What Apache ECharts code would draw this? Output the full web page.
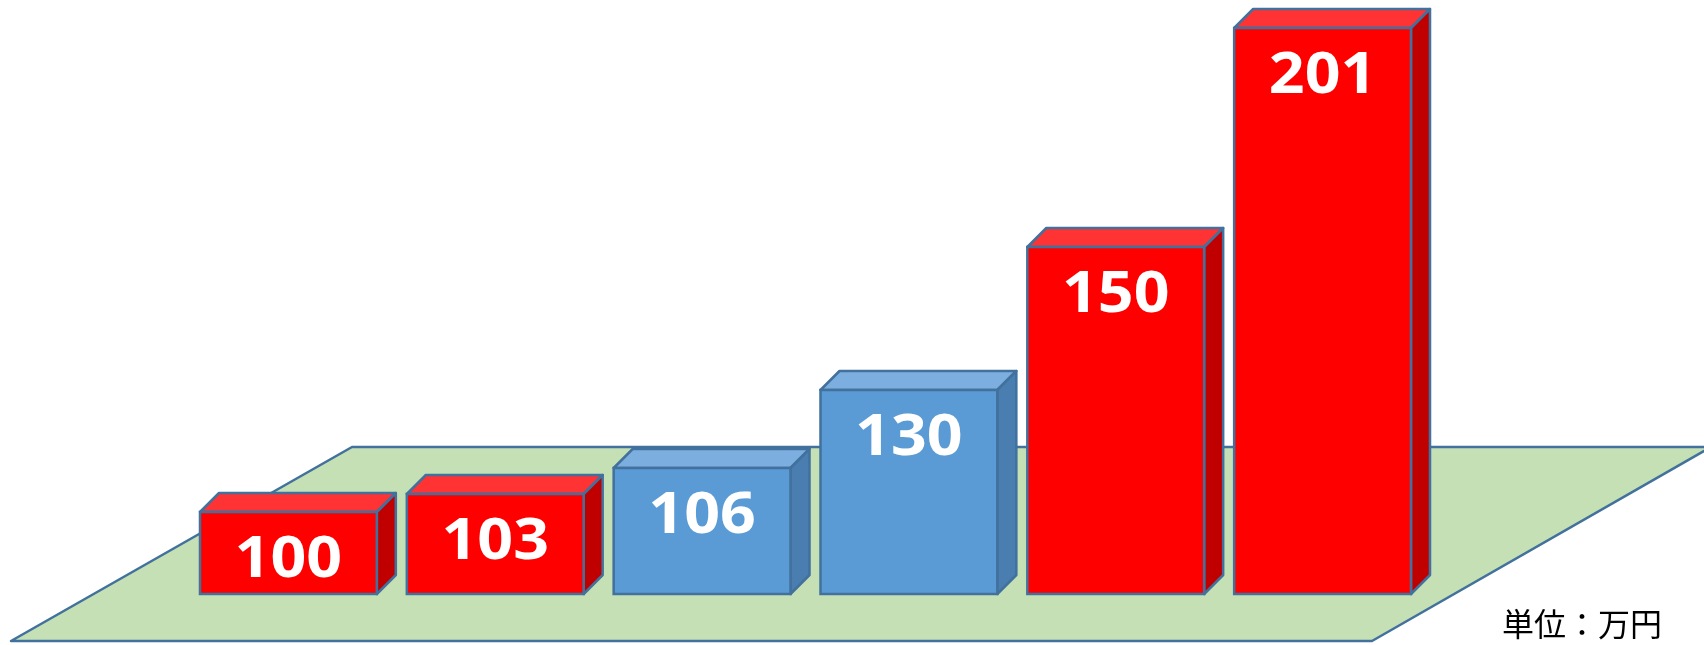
<!DOCTYPE html>
<html>
<head>
<meta charset="utf-8">
<script src="https://cdn.jsdelivr.net/npm/echarts@6/dist/echarts.min.js"></script>
<style>
html,body{margin:0;padding:0;background:#fff;}
#chart{width:1704px;height:645px;}
</style>
</head>
<body>
<div id="chart"></div>
<script>
// ---- data ----
const categories = ['1', '2', '3', '4', '5', '6'];
const values = [100, 103, 106, 130, 150, 201];          // labels shown on bars (万円)
const barHeights = [82, 100, 126, 204, 347, 566];        // drawn heights
const unitLabel = '単位：万円';

// ---- style ----
const blueIdx = [2, 3];
const RED = { front: '#FF0000', top: '#FF3333', side: '#C00000' };
const BLUE = { front: '#5B9BD5', top: '#7CAFE0', side: '#4A7EB0' };
const STROKE = '#41719C';
const DEPTH = 19;

const chart = echarts.init(document.getElementById('chart'), null, { renderer: 'canvas' });

function renderItem(params, api) {
  const i = api.value(0);
  const base = api.coord([i, 0]);
  const topPt = api.coord([i, api.value(1)]);
  const band = api.size([1, 0])[0];
  const w = band * 0.855;
  const x0 = base[0] - w / 2;
  const x1 = base[0] + w / 2;
  const yb = base[1];
  const yt = topPt[1];
  const c = blueIdx.indexOf(i) >= 0 ? BLUE : RED;
  const lw = 2.5;
  return {
    type: 'group',
    children: [
      { type: 'polygon', shape: { points: [[x0, yt], [x0 + DEPTH, yt - DEPTH], [x1 + DEPTH, yt - DEPTH], [x1, yt]] },
        style: { fill: c.top, stroke: STROKE, lineWidth: lw, lineJoin: 'round' } },
      { type: 'polygon', shape: { points: [[x1, yt], [x1 + DEPTH, yt - DEPTH], [x1 + DEPTH, yb - DEPTH], [x1, yb]] },
        style: { fill: c.side, stroke: STROKE, lineWidth: lw, lineJoin: 'round' } },
      { type: 'rect', shape: { x: x0, y: yt, width: w, height: yb - yt },
        style: { fill: c.front, stroke: STROKE, lineWidth: lw } },
      { type: 'text', x: base[0], y: yt + 49, scaleX: 1.1,
        style: { text: String(values[i]), fill: '#FFFFFF', font: 'bold 57px "Noto Sans", sans-serif',
                 textAlign: 'center', textVerticalAlign: 'middle' } }
    ]
  };
}

const option = {
  animation: false,
  grid: { left: 185, right: 278, top: 0, bottom: 51 },
  xAxis: { type: 'category', data: categories, show: false, boundaryGap: true },
  yAxis: { type: 'value', min: 0, max: 594, show: false },
  graphic: [
    { type: 'polygon', z: 0,
      shape: { points: [[11, 641], [352, 447], [1711, 447], [1372, 641]] },
      style: { fill: '#C5E0B4', stroke: STROKE, lineWidth: 2.5, lineJoin: 'round' } },
    { type: 'text', z: 10, left: 1502, top: 608,
      style: { text: unitLabel, fill: '#000000', font: '32px "Noto Sans CJK JP", sans-serif' } }
  ],
  series: [{
    type: 'custom',
    z: 5,
    renderItem: renderItem,
    data: categories.map((c, i) => [i, barHeights[i]])
  }]
};
chart.setOption(option);
</script>
</body>
</html>
